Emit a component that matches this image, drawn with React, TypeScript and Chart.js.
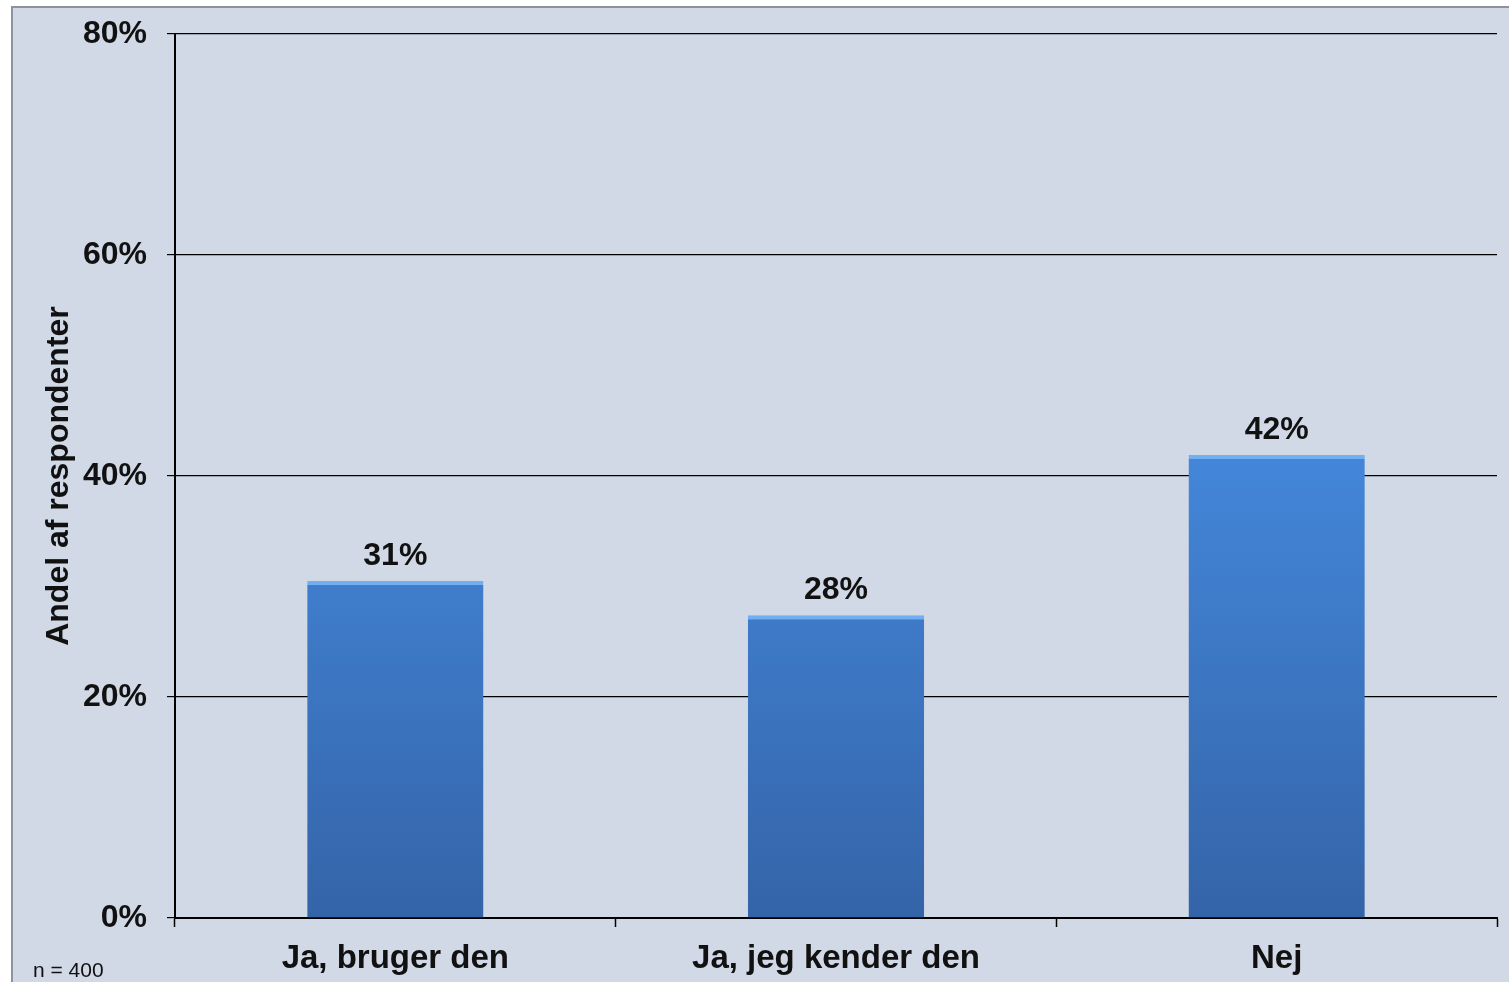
import React, { useEffect, useRef } from "react";
import { Chart, registerables } from "chart.js";

Chart.register(...registerables);

const categories = ["Ja, bruger den", "Ja, jeg kender den", "Nej"];
const shares = [30.5, 27.4, 41.9];
const shareLabels = ["31%", "28%", "42%"];
const yTicks = [0, 20, 40, 60, 80];
const yTitle = "Andel af respondenter";
const footnote = "n = 400";

const FONT = "'Liberation Sans', Arial, sans-serif";

export default function App() {
  const ref = useRef<HTMLCanvasElement | null>(null);

  useEffect(() => {
    const prevMargin = document.body.style.margin;
    document.body.style.margin = "0";
    const canvas = ref.current!;
    const labelsPlugin = {
      id: "labelsPlugin",
      afterDatasetsDraw(chart: any) {
        const ctx = chart.ctx;
        const meta = chart.getDatasetMeta(0);
        ctx.save();
        ctx.fillStyle = "#111";
        ctx.font = `bold 32px ${FONT}`;
        ctx.textAlign = "center";
        ctx.textBaseline = "alphabetic";
        meta.data.forEach((el: any, i: number) => {
          ctx.fillText(shareLabels[i], el.x, el.y - 16);
        });
        ctx.font = `21px ${FONT}`;
        ctx.textAlign = "left";
        ctx.fillText(footnote, 33, 977);
        ctx.restore();
      },
    };

    const chart = new Chart(canvas, {
      type: "bar",
      data: {
        labels: categories,
        datasets: [
          {
            data: shares,
            backgroundColor: (c: any) => {
              const area = c.chart.chartArea;
              if (!area) return "#3d7acb";
              const g = c.chart.ctx.createLinearGradient(0, area.top, 0, area.bottom);
              g.addColorStop(0, "#4f95ea");
              g.addColorStop(0.45, "#4488dc");
              g.addColorStop(1, "#3464a8");
              return g;
            },
            borderColor: "#72aef2",
            borderWidth: { top: 4, left: 0, right: 0, bottom: 0 },
            borderSkipped: "bottom",
            barPercentage: 0.8,
            categoryPercentage: 0.5,
          },
        ],
      },
      options: {
        responsive: false,
        animation: false,
        maintainAspectRatio: false,
        layout: { padding: { top: 34, right: 12, bottom: 0, left: 0 } },
        plugins: { legend: { display: false }, tooltip: { enabled: false } },
        scales: {
          x: {
            grid: {
              offset: true,
              drawOnChartArea: false,
              color: "#000",
              tickLength: 9,
              tickWidth: 1.5,
            },
            border: { color: "#000", width: 2 },
            ticks: {
              color: "#111",
              font: { family: FONT, size: 33, weight: "bold" },
              padding: 12,
              maxRotation: 0,
            },
            afterFit: (s: any) => {
              s.height = 64;
              s.paddingLeft = 0;
              s.paddingRight = 0;
            },
          },
          y: {
            min: 0,
            max: 80,
            afterBuildTicks: (s: any) => {
              s.ticks = yTicks.map((v) => ({ value: v }));
            },
            grid: {
              color: "#000",
              lineWidth: 1.2,
              tickLength: 8,
            },
            border: { color: "#000", width: 2 },
            ticks: {
              color: "#111",
              font: { family: FONT, size: 32, weight: "bold" },
              padding: 20,
              callback: (v: any) => `${v}%`,
            },
            title: {
              display: true,
              text: yTitle,
              color: "#111",
              font: { family: FONT, size: 32, weight: "bold" },
              padding: { top: 40, bottom: 0 },
            },
            afterFit: (s: any) => {
              s.width = 175;
              s.paddingTop = 0;
              s.paddingBottom = 0;
            },
          },
        },
      },
      plugins: [labelsPlugin],
    } as any);
    return () => {
      chart.destroy();
      document.body.style.margin = prevMargin;
    };
  }, []);

  return (
    <div style={{ position: "relative", width: 1509, height: 982, background: "#fff", overflow: "hidden" }}>
      <div
        style={{
          position: "absolute",
          left: 11,
          top: 6,
          width: 1509,
          height: 982,
          background: "#d1d8e6",
          borderLeft: "2px solid #8e929c",
          borderTop: "2px solid #8e929c",
        }}
      />
      <canvas ref={ref} width={1509} height={982} style={{ position: "absolute", left: 0, top: 0 }} />
    </div>
  );
}
